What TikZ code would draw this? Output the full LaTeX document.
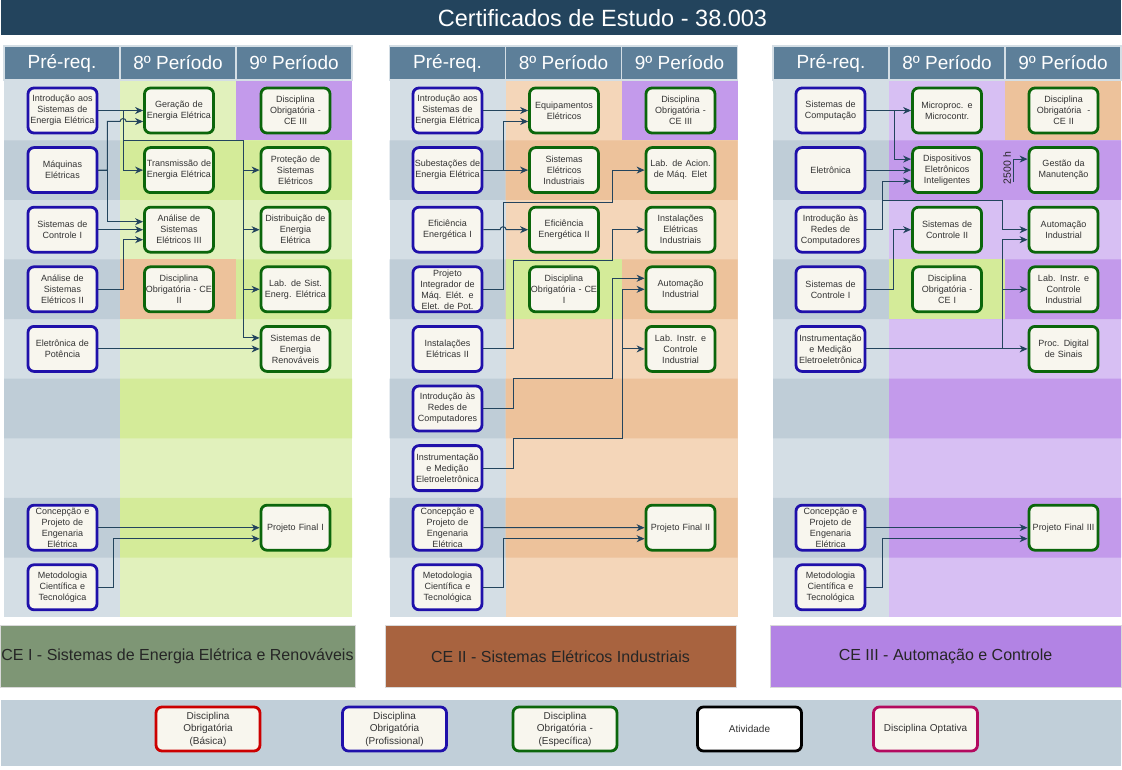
\documentclass[tikz,border=0pt]{standalone}
\usepackage{fontspec}
\setmainfont{Liberation Sans}
\usetikzlibrary{positioning}
\usetikzlibrary{arrows.meta}
\definecolor{titlebg}{HTML}{23445D}
\definecolor{headbg}{HTML}{5D7F99}
\definecolor{prelt}{HTML}{D4DEE5}
\definecolor{predk}{HTML}{BFCDD7}
\definecolor{grnlt}{HTML}{E1F1BC}
\definecolor{grndk}{HTML}{D4EB99}
\definecolor{orglt}{HTML}{F4D6B9}
\definecolor{orgdk}{HTML}{EDC29B}
\definecolor{purlt}{HTML}{D7BFF3}
\definecolor{purdk}{HTML}{C39AEB}
\definecolor{boxfill}{HTML}{F8F6EE}
\definecolor{profcol}{HTML}{1F10AA}
\definecolor{espcol}{HTML}{0B660B}
\definecolor{basiccol}{HTML}{CC0000}
\definecolor{optcol}{HTML}{B30A5F}
\definecolor{linecol}{HTML}{23445D}
\definecolor{legbg}{HTML}{C1CFD9}
\definecolor{ceone}{HTML}{7E9675}
\definecolor{cetwo}{HTML}{A8633F}
\definecolor{cethree}{HTML}{B283E4}
\definecolor{txtcol}{HTML}{333333}
\tikzstyle{disc} = [rectangle, rounded corners=6pt, fill=boxfill, line width=2.8pt, text=txtcol,
  text width=68pt, inner xsep=0.5pt, inner ysep=0.5pt, minimum height=45pt, align=center,
  font=\fontsize{9}{11}\selectfont]
\tikzstyle{profbox} = [disc, draw=profcol]
\tikzstyle{espbox} = [disc, draw=espcol]
\tikzstyle{legbox} = [disc, text width=103pt, minimum height=44pt, font=\fontsize{10}{12.5}\selectfont]
\tikzstyle{head} = [rectangle, fill=headbg, draw=prelt, line width=1.2pt, minimum width=116pt,
  minimum height=34pt, inner sep=0pt, outer sep=0pt, text=white, font=\fontsize{19}{22}\selectfont]
\tikzstyle{cebox} = [rectangle, draw=black!15, line width=0.5pt, minimum height=62pt, inner sep=0pt,
  text=black!85, font=\fontsize{16}{19}\selectfont]
\tikzstyle{conn} = [draw=linecol, line width=1pt, -{Stealth[length=8pt, width=7pt, inset=2.5pt]}]

\begin{document}
\begin{tikzpicture}[x=1pt, y=-1pt, node distance=11.8pt and 44.7pt]
  \useasboundingbox (0,0) rectangle (1122,770);

  \node (titlebar) [fill=titlebg, minimum width=1120pt, minimum height=35pt, inner sep=0pt] at (561,17.5) {};
  \node (title) [text=white, font=\fontsize{23.5}{26}\selectfont] at (602.5,18) {Certificados de Estudo - 38.003};

  \fill[prelt] (4,80.7) rectangle (120,617.1);
  \fill[grnlt] (120,80.7) rectangle (352,617.1);
  \fill[predk] (4,140.3) rectangle (120,199.9) (4,259.5) rectangle (120,319.1)
    (4,378.7) rectangle (120,438.3) (4,497.9) rectangle (120,557.5);
  \fill[grndk] (120,140.3) rectangle (352,199.9) (120,259.5) rectangle (352,319.1)
    (120,378.7) rectangle (352,438.3) (120,497.9) rectangle (352,557.5);
  \fill[purdk] (236,80.7) rectangle (352,140.3);
  \fill[orgdk] (120,259.5) rectangle (236,319.1);

  \fill[prelt] (389.5,80.7) rectangle (505.5,617.1);
  \fill[orglt] (505.5,80.7) rectangle (737.5,617.1);
  \fill[predk] (389.5,140.3) rectangle (505.5,199.9) (389.5,259.5) rectangle (505.5,319.1)
    (389.5,378.7) rectangle (505.5,438.3) (389.5,497.9) rectangle (505.5,557.5);
  \fill[orgdk] (505.5,140.3) rectangle (737.5,199.9) (505.5,259.5) rectangle (737.5,319.1)
    (505.5,378.7) rectangle (737.5,438.3) (505.5,497.9) rectangle (737.5,557.5);
  \fill[purdk] (621.5,80.7) rectangle (737.5,140.3);
  \fill[grndk] (505.5,259.5) rectangle (621.5,319.1);

  \fill[prelt] (773,80.7) rectangle (889,617.1);
  \fill[purlt] (889,80.7) rectangle (1121,617.1);
  \fill[predk] (773,140.3) rectangle (889,199.9) (773,259.5) rectangle (889,319.1)
    (773,378.7) rectangle (889,438.3) (773,497.9) rectangle (889,557.5);
  \fill[purdk] (889,140.3) rectangle (1121,199.9) (889,259.5) rectangle (1121,319.1)
    (889,378.7) rectangle (1121,438.3) (889,497.9) rectangle (1121,557.5);
  \fill[orgdk] (1005,80.7) rectangle (1121,140.3);
  \fill[grndk] (889,259.5) rectangle (1005,319.1);

  \node (ahp) [head] at (62,63) {Pré-req.};
  \node (ahe) [head, right=0pt of ahp] {8º Período};
  \node (ahn) [head, right=0pt of ahe] {9º Período};
  \node (bhp) [head] at (447.5,63) {Pré-req.};
  \node (bhe) [head, right=0pt of bhp] {8º Período};
  \node (bhn) [head, right=0pt of bhe] {9º Período};
  \node (chp) [head] at (831,63) {Pré-req.};
  \node (che) [head, right=0pt of chp] {8º Período};
  \node (chn) [head, right=0pt of che] {9º Período};

  \node (ap1) [profbox] at (62.5,110.5) {Introdução aos\\Sistemas de\\Energia Elétrica};
  \node (ap2) [profbox, below=of ap1] {Máquinas\\Elétricas};
  \node (ap3) [profbox, below=of ap2] {Sistemas de\\Controle I};
  \node (ap4) [profbox, below=of ap3] {Análise de\\Sistemas\\Elétricos II};
  \node (ap5) [profbox, below=of ap4] {Eletrônica de\\Potência};
  \node (ap8) [profbox, below=131pt of ap5] {Concepção e\\Projeto de\\Engenaria\\Elétrica};
  \node (ap9) [profbox, below=of ap8] {Metodologia\\Científica e\\Tecnológica};
  \node (ae1) [espbox, right=of ap1] {Geração de\\Energia Elétrica};
  \node (ae2) [espbox, below=of ae1] {Transmissão de\\Energia Elétrica};
  \node (ae3) [espbox, below=of ae2] {Análise de\\Sistemas\\Elétricos III};
  \node (ae4) [espbox, below=of ae3] {Disciplina\\Obrigatória - CE\\II};
  \node (an1) [espbox, right=of ae1] {Disciplina\\Obrigatória -\\CE III};
  \node (an2) [espbox, below=of an1] {Proteção de\\Sistemas\\Elétricos};
  \node (an3) [espbox, below=of an2] {Distribuição de\\Energia\\Elétrica};
  \node (an4) [espbox, below=of an3] {Lab. de Sist.\\Energ. Elétrica};
  \node (an5) [espbox, below=of an4] {Sistemas de\\Energia\\Renováveis};
  \node (an8) [espbox, below=131pt of an5] {Projeto Final I};

  \node (bp1) [profbox] at (447.5,110.5) {Introdução aos\\Sistemas de\\Energia Elétrica};
  \node (bp2) [profbox, below=of bp1] {Subestações de\\Energia Elétrica};
  \node (bp3) [profbox, below=of bp2] {Eficiência\\Energética I};
  \node (bp4) [profbox, below=of bp3] {Projeto\\Integrador de\\Máq. Elét. e\\Elet. de Pot.};
  \node (bp5) [profbox, below=of bp4] {Instalações\\Elétricas II};
  \node (bp6) [profbox, below=of bp5] {Introdução às\\Redes de\\Computadores};
  \node (bp7) [profbox, below=of bp6] {Instrumentação\\e Medição\\Eletroeletrônica};
  \node (bp8) [profbox, below=of bp7] {Concepção e\\Projeto de\\Engenaria\\Elétrica};
  \node (bp9) [profbox, below=of bp8] {Metodologia\\Científica e\\Tecnológica};
  \node (be1) [espbox, right=of bp1] {Equipamentos\\Elétricos};
  \node (be2) [espbox, below=of be1] {Sistemas\\Elétricos\\Industriais};
  \node (be3) [espbox, below=of be2] {Eficiência\\Energética II};
  \node (be4) [espbox, below=of be3] {Disciplina\\Obrigatória - CE\\I};
  \node (bn1) [espbox, right=of be1] {Disciplina\\Obrigatória -\\CE III};
  \node (bn2) [espbox, below=of bn1] {Lab. de Acion.\\de Máq. Elet};
  \node (bn3) [espbox, below=of bn2] {Instalações\\Elétricas\\Industriais};
  \node (bn4) [espbox, below=of bn3] {Automação\\Industrial};
  \node (bn5) [espbox, below=of bn4] {Lab. Instr. e\\Controle\\Industrial};
  \node (bn8) [espbox, below=131pt of bn5] {Projeto Final II};

  \node (cp1) [profbox] at (830.5,110.5) {Sistemas de\\Computação};
  \node (cp2) [profbox, below=of cp1] {Eletrônica};
  \node (cp3) [profbox, below=of cp2] {Introdução às\\Redes de\\Computadores};
  \node (cp4) [profbox, below=of cp3] {Sistemas de\\Controle I};
  \node (cp5) [profbox, below=of cp4] {Instrumentação\\e Medição\\Eletroeletrônica};
  \node (cp8) [profbox, below=131pt of cp5] {Concepção e\\Projeto de\\Engenaria\\Elétrica};
  \node (cp9) [profbox, below=of cp8] {Metodologia\\Científica e\\Tecnológica};
  \node (ce1) [espbox, right=of cp1] {Microproc. e\\Microcontr.};
  \node (ce2) [espbox, below=of ce1] {Dispositivos\\Eletrônicos\\Inteligentes};
  \node (ce3) [espbox, below=of ce2] {Sistemas de\\Controle II};
  \node (ce4) [espbox, below=of ce3] {Disciplina\\Obrigatória -\\CE I};
  \node (cn1) [espbox, right=of ce1] {Disciplina\\Obrigatória~ -\\CE II};
  \node (cn2) [espbox, below=of cn1] {Gestão da\\Manutenção};
  \node (cn3) [espbox, below=of cn2] {Automação\\Industrial};
  \node (cn4) [espbox, below=of cn3] {Lab. Instr. e\\Controle\\Industrial};
  \node (cn5) [espbox, below=of cn4] {Proc. Digital\\de Sinais};
  \node (cn8) [espbox, below=131pt of cn5] {Projeto Final III};
  \node (hrs) [rotate=90, inner sep=0pt, text=black!85, font=\fontsize{10.5}{12}\selectfont] at (1007,168) {2500 h};
  \coordinate (hrsout) at (1013,182);

  \draw[conn] (ap1.east) -- (ae1.west);
  \draw[conn] (ap1.east) -- ++(25,0) |- (ae2.west);
  \draw[conn] (ap1.east) -- ++(25,0) -- ++(0,30) -- ++(120,0) |- (an2.west);
  \draw[conn] (ap1.east) -- ++(25,0) -- ++(0,30) -- ++(120,0) |- (an3.west);
  \draw[conn] (ap1.east) -- ++(25,0) -- ++(0,30) -- ++(120,0) |- (an4.west);
  \draw[conn] (ap1.east) -- ++(25,0) -- ++(0,30) -- ++(120,0) |- ([yshift=11pt]an5.west);
  \draw[conn] (ap2.east) -- ++(9,0) |- ([xshift=-23pt,yshift=-11pt]ae1.west)
  arc[start angle=180, end angle=0, radius=3pt] -- ([yshift=-11pt]ae1.west);
  \draw[conn] (ap2.east) -- ++(9,0) |- ([yshift=8pt]ae3.west);
  \draw[conn] (ap3.east) -- (ae3.west);
  \draw[conn] (ap4.east) -- ++(25,0) |- ([yshift=-10pt]ae3.west);
  \draw[conn] (ap5.east) -- (an5.west);
  \draw[conn] (ap8.east) -- (an8.west);
  \draw[conn] (ap9.east) -- ++(15,0) |- ([yshift=-11pt]an8.west);

  \draw[conn] (bp1.east) -- (be1.west);
  \draw[conn] (bp2.east) -- (be2.west);
  \draw[conn] (bp2.east) -- ++(20,0) |- ([yshift=-11pt]be1.west);
  \draw[conn] (bp3.east) -- ([xshift=-28pt]be3.west)
  arc[start angle=180, end angle=0, radius=3pt] -- (be3.west);
  \draw[conn] (bp4.east) -- ++(20,0) |- ([xshift=-32pt,yshift=-32pt]bn2.west) |- (bn2.west);
  \draw[conn] (bp5.east) -- ++(30,0) |- ([xshift=-32pt,yshift=-31pt]bn3.west) |- (bn3.west);
  \draw[conn] (bp6.east) -- ++(30,0) |- ([xshift=-32pt,yshift=-89pt]bn4.west) |- ([yshift=11pt]bn4.west);
  \draw[conn] (bp7.east) -- ++(30,0) |- ([xshift=-22pt,yshift=-149pt]bn4.west) |- (bn4.west);
  \draw[conn] (bp7.east) -- ++(30,0) |- ([xshift=-22pt,yshift=-149pt]bn4.west) |- (bn5.west);
  \draw[conn] (bp8.east) -- (bn8.west);
  \draw[conn] (bp9.east) -- ++(20,0) |- ([yshift=-11pt]bn8.west);

  \draw[conn] (cp1.east) -- (ce1.west);
  \draw[conn] (cp1.east) -- ++(28,0) |- ([yshift=11pt]ce2.west);
  \draw[conn] (cp2.east) -- (ce2.west);
  \draw[conn] (cp3.east) -- ++(16,0) |- ([yshift=-11pt]ce2.west);
  \draw[conn] (cp3.east) -- ++(16,0) |- ([xshift=-25pt,yshift=29pt]cn3.west) |- (cn3.west);
  \draw[conn] (cp4.east) -- ++(27,0) |- (ce3.west);
  \draw[conn] (cp5.east) -- (cn5.west);
  \draw[conn] (cp5.east) -- ++(136.4,0) |- ([yshift=-10pt]cn3.west);
  \draw[conn] (cp5.east) -- ++(136.4,0) |- (cn4.west);
  \draw[conn] (cp8.east) -- (cn8.west);
  \draw[conn] (cp9.east) -- ++(16,0) |- ([yshift=-11pt]cn8.west);
  \draw[conn] (hrsout) |- ([yshift=11pt]cn2.west);

  \node (ceA) [cebox, fill=ceone, minimum width=355pt] at (177.5,656) {CE I - Sistemas de Energia Elétrica e Renováveis};
  \node (ceB) [cebox, fill=cetwo, minimum width=351pt] at (560.5,656.5) {CE II - Sistemas Elétricos Industriais};
  \node (ceC) [cebox, fill=cethree, minimum width=351pt] at (945.5,656) {CE III - Automação e Controle};

  \node (legend) [fill=legbg, minimum width=1120pt, minimum height=66pt, inner sep=0pt] at (561,733) {};
  \node (lgbas) [legbox, draw=basiccol] at (208,729) {Disciplina\\Obrigatória\\(Básica)};
  \node (lgprof) [legbox, draw=profcol] at (394.5,729) {Disciplina\\Obrigatória\\(Profissional)};
  \node (lgesp) [legbox, draw=espcol] at (565,729) {Disciplina\\Obrigatória -\\(Específica)};
  \node (lgativ) [legbox, draw=black, fill=white] at (749.5,729) {Atividade};
  \node (lgopt) [legbox, draw=optcol] at (925.5,729) {Disciplina Optativa};
\end{tikzpicture}
\end{document}
